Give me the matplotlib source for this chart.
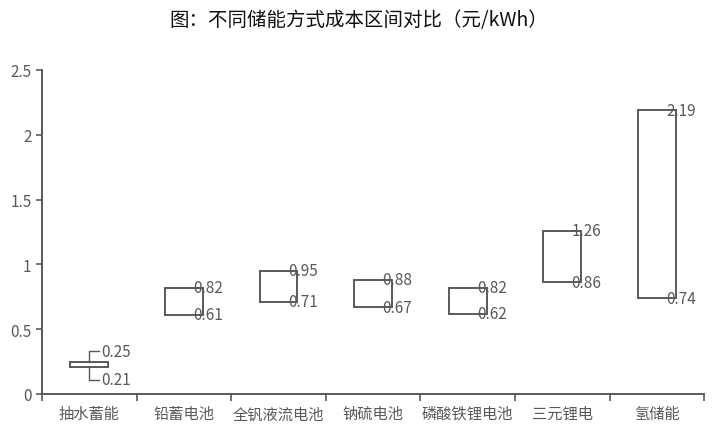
import matplotlib.pyplot as plt
import numpy as np

plt.rcParams['font.family'] = ['Noto Sans CJK SC', 'DejaVu Sans']

categories = ["抽水蓄能", "铅蓄电池", "全钒液流电池", "钠硫电池", "磷酸铁锂电池", "三元锂电", "氢储能"]
low = [0.21, 0.61, 0.71, 0.67, 0.62, 0.86, 0.74]
high = [0.25, 0.82, 0.95, 0.88, 0.82, 1.26, 2.19]

gray = "#595959"
fig = plt.figure(figsize=(7.17, 4.35), dpi=100)
ax = fig.add_axes([0.0586, 0.092, 0.9234, 0.745])

x = np.arange(len(categories))
w = 0.4
lo = np.array(low)
hi = np.array(high)
ax.bar(x, hi - lo, bottom=lo, width=w, facecolor="white", edgecolor=gray, linewidth=1.4)

for i in range(len(categories)):
    if i == 0:
        # small box: labels pulled out with leader lines
        for v, dy in [(high[i], 0.08), (low[i], -0.10)]:
            ax.plot([x[i], x[i], x[i] + 0.1], [v, v + dy, v + dy], color=gray, lw=1)
            ax.text(x[i] + 0.13, v + dy, f"{v:.2f}", ha="left", va="center", color=gray, fontsize=11)
    else:
        for v in (high[i], low[i]):
            ax.text(x[i] + w / 2 - 0.1, v, f"{v:.2f}", ha="left", va="center", color=gray, fontsize=11)

ax.set_xlim(-0.5, len(categories) - 0.5)
ax.set_ylim(0, 2.5)
ax.set_yticks([0, 0.5, 1, 1.5, 2, 2.5])
ax.set_yticklabels(["0", "0.5", "1", "1.5", "2", "2.5"])
ax.set_xticks(x)
ax.set_xticklabels(categories)
ax.set_xticks(np.arange(len(categories) + 1) - 0.5, minor=True)
ax.tick_params(axis="x", which="major", length=0, pad=8, labelsize=11, colors=gray)
ax.tick_params(axis="x", which="minor", length=5, width=1.2, color=gray)
ax.tick_params(axis="y", length=4, width=1.2, color=gray, labelcolor=gray, labelsize=11)
for s in ["top", "right"]:
    ax.spines[s].set_visible(False)
for s in ["left", "bottom"]:
    ax.spines[s].set_color(gray)
    ax.spines[s].set_linewidth(1.4)

fig.text(0.5, 0.952, "图：不同储能方式成本区间对比（元/kWh）", ha="center", va="center", fontsize=14, color="#111111")

fig.savefig("out.png", dpi=100)
